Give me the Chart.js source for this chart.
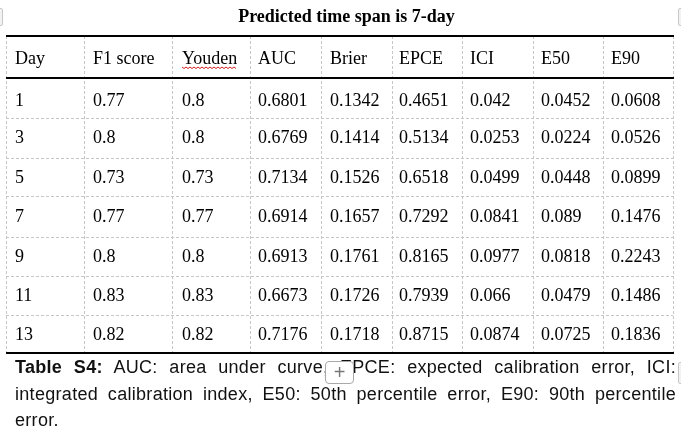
<!DOCTYPE html>
<html>
<head>
<meta charset="utf-8">
<script src="https://cdn.jsdelivr.net/npm/chart.js"></script>
<style>
  html, body { margin: 0; padding: 0; background: #fff; }
  #wrap { position: relative; width: 681px; height: 430px; overflow: hidden; }
  #caption {
    position: absolute; left: 15px; top: 354px; width: 661px;
    font-family: "Liberation Sans", Arial, sans-serif; font-size: 18px;
    line-height: 26.5px; letter-spacing: 0.3px; color: #111;
  }
  #caption .ln { text-align: justify; text-align-last: justify; }
  #caption b { font-weight: bold; }
  #addBtn {
    position: absolute; left: 325px; top: 361px; width: 27px; height: 21px;
    border: 1px solid #a8a8a8; border-radius: 4px; background: #fff;
    font: 20px/20px "Liberation Sans", Arial, sans-serif; color: #777; text-align: center;
  }
  .sliver { position: absolute; width: 4px; border: 1px solid #c8c8c8; background: #f2f2f2; border-radius: 2px; }
</style>
</head>
<body>
<div id="wrap">
  <canvas id="tableChart"></canvas>
  <div id="caption">
    <div class="ln"><b>Table S4:</b> AUC: area under curve, EPCE: expected calibration error, ICI:</div>
    <div class="ln">integrated calibration index, E50: 50th percentile error, E90: 90th percentile</div>
    <div>error.</div>
  </div>
  <div id="addBtn">+</div>
  <div class="sliver" style="left:-3px; top:8px; height:16px;"></div>
  <div class="sliver" style="left:678px; top:8px; height:16px;"></div>
  <div class="sliver" style="left:678px; top:362px; height:20px;"></div>
</div>
<script>
const titleText = 'Predicted time span is 7-day';
const headers = ['Day', 'F1 score', 'Youden', 'AUC', 'Brier', 'EPCE', 'ICI', 'E50', 'E90'];
const days = [1, 3, 5, 7, 9, 11, 13];
const f1Score = [0.77, 0.8, 0.73, 0.77, 0.8, 0.83, 0.82];
const youden = [0.8, 0.8, 0.73, 0.77, 0.8, 0.83, 0.82];
const auc = [0.6801, 0.6769, 0.7134, 0.6914, 0.6913, 0.6673, 0.7176];
const brier = [0.1342, 0.1414, 0.1526, 0.1657, 0.1761, 0.1726, 0.1718];
const epce = [0.4651, 0.5134, 0.6518, 0.7292, 0.8165, 0.7939, 0.8715];
const ici = [0.042, 0.0253, 0.0499, 0.0841, 0.0977, 0.066, 0.0874];
const e50 = [0.0452, 0.0224, 0.0448, 0.089, 0.0818, 0.0479, 0.0725];
const e90 = [0.0608, 0.0526, 0.0899, 0.1476, 0.2243, 0.1486, 0.1836];

const columns = [days, f1Score, youden, auc, brier, epce, ici, e50, e90];

// table geometry, in table units (1 unit = 1px inside the table box)
const colEdges = [0, 78, 166, 244, 315, 386, 456, 527, 597, 667];
const rowEdges = [0, 42, 82, 122, 161, 201, 240, 279, 317];
const cellPad = [9, 9, 10, 8, 9, 7, 8, 8, 8];

function baselineFor(r) {
    // rows under a thick rule sit a bit lower
    return rowEdges[r] + (r < 2 ? 28 : 25);
}

const datasets = headers.map((h, c) => ({
    label: h,
    data: [h].concat(columns[c]).map((v, r) => ({
        x: colEdges[c] + cellPad[c],
        y: baselineFor(r),
        text: String(v)
    })),
    pointRadius: 0,
    pointHoverRadius: 0,
    showLine: false
}));

const tablePlugin = {
    id: 'tableCells',
    afterDatasetsDraw(chart) {
        const ctx = chart.ctx;
        const x = chart.scales.x;
        const y = chart.scales.y;
        ctx.save();

        // title
        ctx.fillStyle = '#000';
        ctx.font = 'bold 18px "Liberation Serif", "Times New Roman", serif';
        ctx.textAlign = 'center';
        ctx.textBaseline = 'alphabetic';
        ctx.fillText(titleText, (x.left + x.right) / 2 + 7, 22);

        // thick rules: top, under header, bottom
        ctx.strokeStyle = '#000';
        ctx.lineWidth = 2;
        [rowEdges[0], rowEdges[1], rowEdges[rowEdges.length - 1]].forEach(v => {
            const py = Math.round(y.getPixelForValue(v));
            ctx.beginPath();
            ctx.moveTo(x.left, py);
            ctx.lineTo(x.right + 1, py);
            ctx.stroke();
        });

        // cell text
        ctx.font = '18px "Liberation Serif", "Times New Roman", serif';
        ctx.textAlign = 'left';
        chart.data.datasets.forEach((ds, i) => {
            chart.getDatasetMeta(i).data.forEach((pt, r) => {
                ctx.fillText(ds.data[r].text, pt.x, pt.y);
            });
        });

        // spell-check squiggle under the Youden header
        const yPt = chart.getDatasetMeta(2).data[0];
        const w = ctx.measureText(headers[2]).width;
        ctx.strokeStyle = '#d42020';
        ctx.lineWidth = 1;
        ctx.beginPath();
        for (let k = 0; k <= w; k += 2) {
            const yy = yPt.y + 3 + ((k / 2) % 2 ? 1.5 : 0);
            if (k === 0) ctx.moveTo(yPt.x + k, yy); else ctx.lineTo(yPt.x + k, yy);
        }
        ctx.stroke();

        ctx.restore();
    }
};

const gridStyle = { color: '#c6c6c6', lineWidth: 1, drawTicks: false, tickLength: 0 };

new Chart(document.getElementById('tableChart'), {
    type: 'scatter',
    data: { datasets: datasets },
    options: {
        responsive: true,
        maintainAspectRatio: false,
        animation: false,
        events: [],
        layout: { padding: { top: 36, left: 6, right: 8, bottom: 77 } },
        plugins: {
            legend: { display: false },
            tooltip: { enabled: false },
            title: { display: false }
        },
        scales: {
            x: {
                type: 'linear',
                min: colEdges[0],
                max: colEdges[colEdges.length - 1],
                afterBuildTicks: s => { s.ticks = colEdges.map(v => ({ value: v })); },
                ticks: { display: false },
                grid: gridStyle,
                border: { display: false, dash: [3, 2] }
            },
            y: {
                type: 'linear',
                reverse: true,
                min: rowEdges[0],
                max: rowEdges[rowEdges.length - 1],
                afterBuildTicks: s => { s.ticks = rowEdges.map(v => ({ value: v })); },
                ticks: { display: false },
                grid: gridStyle,
                border: { display: false, dash: [3, 2] }
            }
        }
    },
    plugins: [tablePlugin]
});
</script>
</body>
</html>
